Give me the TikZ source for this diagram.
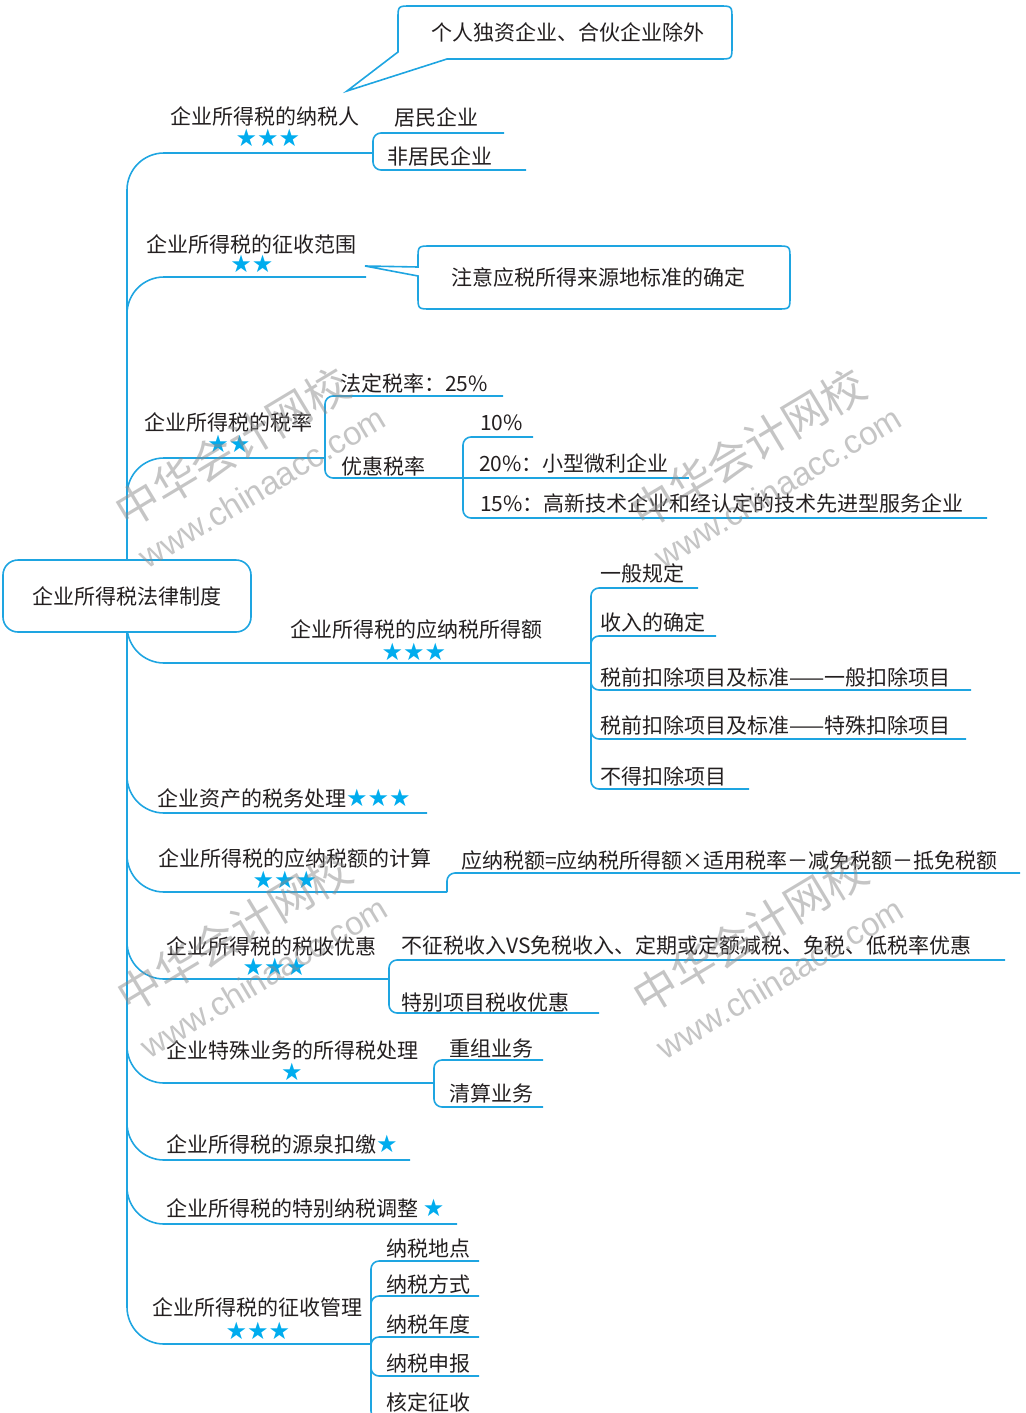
\documentclass[tikz,border=0pt]{standalone}
\usepackage{fontspec}
\setmainfont{Noto Sans CJK SC}
\newfontfamily\wmlatin{Liberation Sans}
\newfontfamily\starfont{DejaVu Sans}
\definecolor{ln}{RGB}{30,165,225}
\definecolor{st}{RGB}{0,172,238}
\definecolor{tx}{RGB}{35,31,32}
\definecolor{wm}{RGB}{140,140,140}
\newcommand{\stx}[1]{{\starfont\fontsize{24}{25}\selectfont\textcolor{st}{#1}}}
\pgfdeclarelayer{bg}
\pgfsetlayers{bg,main}
\begin{document}
\begin{tikzpicture}[x=1pt,y=-1pt,
  lbl/.style={inner sep=0pt, text=tx, font=\fontsize{21}{25}\selectfont, text height=18.5pt, text depth=2.5pt},
  lw/.style={lbl, anchor=west},
  stars/.style={inner sep=0pt, text=st, font=\starfont\fontsize{24}{25}\selectfont},
  trunk/.style={draw=ln, line width=1.6pt, rounded corners=37pt},
  conn/.style={draw=ln, line width=1.6pt, rounded corners=8pt},
  callout/.style={draw=ln, line width=1.6pt, fill=white},
  rootbox/.style={draw=ln, line width=1.6pt, fill=white, rounded corners=15pt, minimum width=248pt, minimum height=72pt, inner sep=0pt, text=tx, font=\fontsize{21}{25}\selectfont},
  wmcn/.style={text=wm, text opacity=0.5, font=\fontsize{44}{50}\selectfont, rotate=31, inner sep=0pt},
  wmen/.style={text=wm, text opacity=0.5, font=\wmlatin\fontsize{33}{38}\selectfont, rotate=31, inner sep=0pt},
]
\useasboundingbox (0,0) rectangle (1025,1413);
\clip (0,0) rectangle (1025,1413);

% ---------- callouts ----------
\coordinate (t1) at (347,91);
\coordinate (t2) at (365,266);
\draw[callout] (398,52) -- (398,19) .. controls (398,6) .. (411,6) -- (719,6) .. controls (732,6) .. (732,19) -- (732,46) .. controls (732,59) .. (719,59) -- (447,59) -- (t1) -- cycle;
\node[lbl] (co1) at (568,33) {个人独资企业、合伙企业除外};
\draw[callout] (418,267) -- (418,259) .. controls (418,246) .. (431,246) -- (777,246) .. controls (790,246) .. (790,259) -- (790,296) .. controls (790,309) .. (777,309) -- (431,309) .. controls (418,309) .. (418,296) -- (418,276) -- (t2) -- cycle;
\node[lbl] (co2) at (598,277) {注意应税所得来源地标准的确定};

% ---------- root ----------
\node[rootbox] (root) at (127,596) {企业所得税法律制度};

% ---------- level 1 ----------
\node[lbl] (n1) at (265,116) {企业所得税的纳税人};
\node[stars] (s1) at (268,138) {★★★};
\node[lbl] (n2) at (251,244) {企业所得税的征收范围};
\node[stars] (s2) at (252,264) {★★};
\node[lbl] (n3) at (228,422) {企业所得税的税率};
\node[stars] (s3) at (229,444) {★★};
\node[lbl] (n4) at (416,629) {企业所得税的应纳税所得额};
\node[stars] (s4) at (414,652) {★★★};
\node[lw] (n5) at (157,798) {企业资产的税务处理\stx{★★★}};
\node[lbl] (n6) at (295,858) {企业所得税的应纳税额的计算};
\node[stars] (s6) at (285,880) {★★★};
\node[lbl] (n7) at (271,946) {企业所得税的税收优惠};
\node[stars] (s7) at (275,967) {★★★};
\node[lbl] (n8) at (292,1050) {企业特殊业务的所得税处理};
\node[stars] (s8) at (292,1072) {★};
\node[lw] (n9) at (166,1144) {企业所得税的源泉扣缴\stx{★}};
\node[lw] (n10) at (166,1208) {企业所得税的特别纳税调整 \stx{★}};
\node[lbl] (n11) at (257,1307) {企业所得税的征收管理};
\node[stars] (s11) at (258,1331) {★★★};

% ---------- level 2 ----------
\node[lw] (m11) at (394,117) {居民企业};
\node[lw] (m12) at (387,156) {非居民企业};
\node[lw] (m31) at (340,383) {法定税率：25\%};
\node[lw] (m32) at (341,466) {优惠税率};
\node[lw] (m321) at (480,422) {10\%};
\node[lw] (m322) at (479,463) {20\%：小型微利企业};
\node[lw] (m323) at (480,503) {15\%：高新技术企业和经认定的技术先进型服务企业};
\node[lw] (m41) at (600,573) {一般规定};
\node[lw] (m42) at (600,622) {收入的确定};
\node[lw] (m43) at (600,677) {税前扣除项目及标准——一般扣除项目};
\node[lw] (m44) at (600,725) {税前扣除项目及标准——特殊扣除项目};
\node[lw] (m45) at (600,776) {不得扣除项目};
\node[lw] (m61) at (461,860) {应纳税额=应纳税所得额×适用税率－减免税额－抵免税额};
\node[lw] (m71) at (401,945) {不征税收入VS免税收入、定期或定额减税、免税、低税率优惠};
\node[lw] (m72) at (401,1002) {特别项目税收优惠};
\node[lw] (m81) at (449,1048) {重组业务};
\node[lw] (m82) at (449,1093) {清算业务};
\node[lw] (m111) at (386,1248) {纳税地点};
\node[lw] (m112) at (386,1284) {纳税方式};
\node[lw] (m113) at (386,1324) {纳税年度};
\node[lw] (m114) at (386,1363) {纳税申报};
\node[lw] (m115) at (386,1402) {核定征收};

% ---------- line end points ----------
\coordinate (b1) at (373,153);
\coordinate (b2) at (366,277);
\coordinate (b3) at (325,458);
\coordinate (b4) at (591,663);
\coordinate (b5) at (427,813);
\coordinate (b6) at (447,892);
\coordinate (b7) at (389,979);
\coordinate (b8) at (434,1083);
\coordinate (b9) at (410,1160);
\coordinate (b10) at (457,1224);
\coordinate (b11) at (371,1344);
\coordinate (e11) at (504,133);
\coordinate (e12) at (526,170);
\coordinate (e31) at (503,396);
\coordinate (b32) at (463,478);
\coordinate (e32) at (689,478);
\coordinate (e321) at (533,437);
\coordinate (e323) at (987,518);
\coordinate (e41) at (698,588);
\coordinate (e42) at (716,636);
\coordinate (e43) at (971,690);
\coordinate (e44) at (966,739);
\coordinate (e45) at (749,789);
\coordinate (e61) at (1020,873);
\coordinate (e71) at (1005,960);
\coordinate (e72) at (599,1013);
\coordinate (e81) at (543,1060);
\coordinate (e82) at (543,1107);
\coordinate (e111) at (479,1261);
\coordinate (e112) at (479,1296);
\coordinate (e113) at (479,1337);
\coordinate (e114) at (479,1376);
\coordinate (e115) at (479,1419);

\begin{pgfonlayer}{bg}
\foreach \b in {b1,b2,b3,b4,b5,b6,b7,b8,b9,b10,b11}
  \draw[trunk] (root.center) |- (\b);
\draw[conn] (b1) |- (e11);
\draw[conn] (b1) |- (e12);
\draw[conn] (b3) |- (e31);
\draw[conn] (b3) |- (b32);
\draw[conn] (b32) -- (e32);
\draw[conn] (b32) |- (e321);
\draw[conn] (b32) |- (e323);
\foreach \e in {e41,e42,e43,e44,e45}
  \draw[conn] (b4) |- (\e);
\draw[conn] (b6) |- (e61);
\draw[conn] (b7) |- (e71);
\draw[conn] (b7) |- (e72);
\draw[conn] (b8) |- (e81);
\draw[conn] (b8) |- (e82);
\foreach \e in {e111,e112,e113,e114,e115}
  \draw[conn] (b11) |- (\e);
\end{pgfonlayer}

% ---------- watermarks ----------
\node[wmcn] (w1) at (232,447) {中华会计网校};
\node[wmen] (w1e) at (262,487) {www.chinaacc.com};
\node[wmcn] (w2) at (748,448) {中华会计网校};
\node[wmen] (w2e) at (778,487) {www.chinaacc.com};
\node[wmcn] (w3) at (234,932) {中华会计网校};
\node[wmen] (w3e) at (264,977) {www.chinaacc.com};
\node[wmcn] (w4) at (750,933) {中华会计网校};
\node[wmen] (w4e) at (780,978) {www.chinaacc.com};
\end{tikzpicture}
\end{document}
